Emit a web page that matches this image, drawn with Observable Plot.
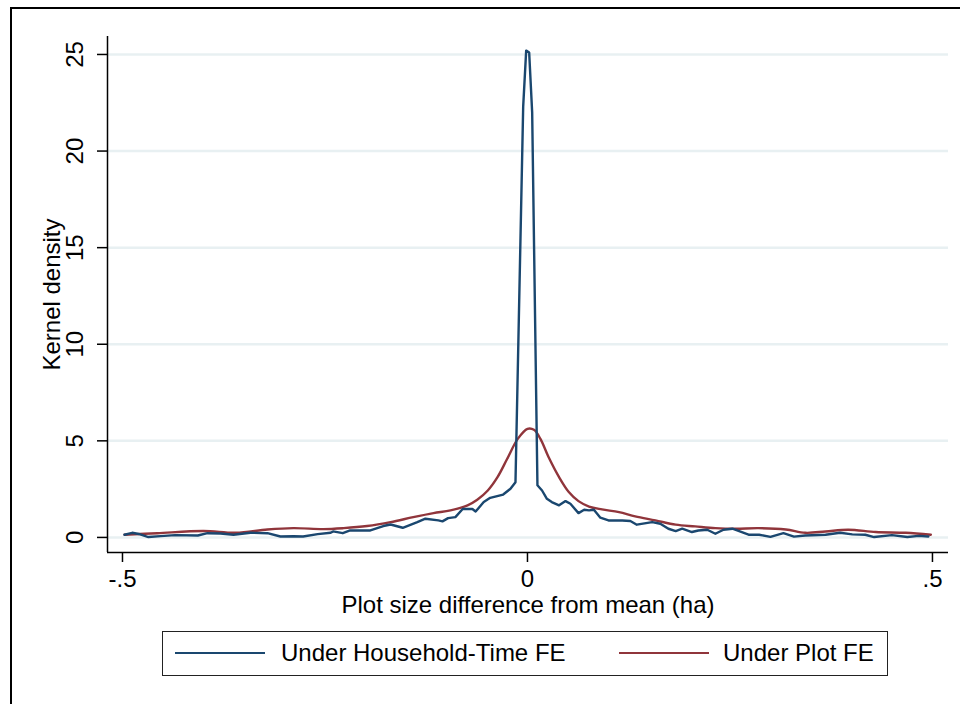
<!DOCTYPE html>
<html>
<head>
<meta charset="utf-8">
<script src="https://cdn.jsdelivr.net/npm/d3@7"></script>
<script src="https://cdn.jsdelivr.net/npm/@observablehq/plot@0.6"></script>
<style>
  html, body { margin: 0; padding: 0; background: #fff; }
  #wrap { position: relative; width: 960px; height: 704px; overflow: hidden; font-family: "Liberation Sans", Arial, Helvetica, sans-serif; }
  #outer { position: absolute; left: 10px; top: 7px; width: 1000px; height: 800px; border-top: 2.5px solid #000; border-left: 2.5px solid #000; pointer-events: none; }
  #legend { position: absolute; left: 162px; top: 631px; width: 726px; height: 45px; border: 1.6px solid #222; box-sizing: border-box; }
  .sw { position: absolute; top: 20px; width: 90px; height: 0; border-top: 2.5px solid; }
  .lt { position: absolute; top: 0; line-height: 42px; font-size: 24px; color: #000; white-space: nowrap; }
</style>
</head>
<body>
<div id="wrap">
  <div id="chart"></div>
  <div id="legend"></div>
  <div id="outer"></div>
</div>
<script>
// ---- data ----
const blueX = [-0.4975, -0.488, -0.480, -0.468, -0.453, -0.435, -0.407, -0.395, -0.379, -0.363,
  -0.342, -0.321, -0.305, -0.289, -0.277, -0.259, -0.243, -0.240, -0.228, -0.219,
  -0.194, -0.178, -0.169, -0.154, -0.136, -0.126, -0.110, -0.105, -0.098, -0.089,
  -0.080, -0.068, -0.064, -0.054, -0.046, -0.030, -0.021, -0.0148, -0.0053, -0.0016,
  0.0021, 0.0058, 0.0123, 0.018, 0.024, 0.030, 0.039, 0.047, 0.053, 0.063,
  0.070, 0.076, 0.082, 0.090, 0.100, 0.117, 0.127, 0.135, 0.154, 0.164,
  0.174, 0.183, 0.191, 0.203, 0.211, 0.222, 0.232, 0.242, 0.253, 0.273,
  0.286, 0.300, 0.316, 0.329, 0.343, 0.368, 0.386, 0.401, 0.417, 0.428,
  0.450, 0.469, 0.483, 0.495];
const blueY = [0.14, 0.24, 0.18, 0.02, 0.07, 0.12, 0.10, 0.22, 0.20, 0.14,
  0.24, 0.22, 0.05, 0.06, 0.05, 0.17, 0.24, 0.31, 0.22, 0.36,
  0.36, 0.59, 0.67, 0.50, 0.79, 0.97, 0.88, 0.83, 1.00, 1.05,
  1.47, 1.47, 1.34, 1.83, 2.05, 2.22, 2.52, 2.86, 22.3, 25.2,
  25.1, 22.0, 2.70, 2.43, 2.00, 1.83, 1.66, 1.88, 1.74, 1.26,
  1.43, 1.40, 1.43, 1.02, 0.88, 0.88, 0.85, 0.66, 0.79, 0.71,
  0.45, 0.33, 0.45, 0.28, 0.36, 0.40, 0.19, 0.40, 0.45, 0.14,
  0.14, 0.03, 0.22, 0.04, 0.10, 0.14, 0.24, 0.16, 0.14, 0.02,
  0.12, 0.02, 0.08, 0.05];

const redX = [-0.4975, -0.457, -0.400, -0.360, -0.321, -0.289, -0.252, -0.227, -0.198, -0.169,
  -0.141, -0.116, -0.095, -0.074, -0.062, -0.049, -0.037, -0.025, -0.012, 0.000,
  0.008, 0.016, 0.026, 0.039, 0.051, 0.063, 0.076, 0.092, 0.113, 0.133,
  0.158, 0.183, 0.207, 0.232, 0.257, 0.285, 0.319, 0.343, 0.368, 0.396,
  0.430, 0.467, 0.498];
const redY = [0.14, 0.22, 0.33, 0.24, 0.41, 0.48, 0.43, 0.48, 0.59, 0.79,
  1.05, 1.26, 1.40, 1.66, 1.95, 2.43, 3.12, 4.07, 5.10, 5.62,
  5.57, 5.10, 4.16, 3.12, 2.35, 1.88, 1.60, 1.45, 1.31, 1.09,
  0.88, 0.66, 0.57, 0.48, 0.45, 0.48, 0.41, 0.24, 0.31, 0.40,
  0.28, 0.24, 0.14];

const yTicks = [0, 5, 10, 15, 20, 25];
const xTicks = [-0.5, 0, 0.5];
const xTickLabels = ["-.5", "0", ".5"];
const seriesNames = ["Under Household-Time FE", "Under Plot FE"];
const seriesColors = ["#1a476f", "#90353b"];
const xTitle = "Plot size difference from mean (ha)";
const yTitle = "Kernel density";

// ---- tables ----
const blueData = blueX.map((x, i) => ({x, y: blueY[i]}));
const redData = redX.map((x, i) => ({x, y: redY[i]}));
const xDomain = [-0.5185, 0.5198];
const yDomain = [-0.78, 25.93];
const FONT = "'Liberation Sans', Arial, Helvetica, sans-serif";

const chart = Plot.plot({
  width: 960,
  height: 622,
  marginLeft: 107,
  marginRight: 12,
  marginTop: 36,
  marginBottom: 70,
  style: {fontFamily: FONT, fontSize: "24px", color: "#000", background: "transparent"},
  x: {domain: xDomain},
  y: {domain: yDomain},
  marks: [
    Plot.ruleY(yTicks, {stroke: "#e8f0f2", strokeWidth: 2.5}),
    Plot.line(redData, {x: "x", y: "y", stroke: seriesColors[1], strokeWidth: 2.4, curve: "catmull-rom"}),
    Plot.line(blueData, {x: "x", y: "y", stroke: seriesColors[0], strokeWidth: 2.4}),
    Plot.ruleX([xDomain[0]], {stroke: "#000", strokeWidth: 1.5}),
    Plot.ruleY([yDomain[0]], {stroke: "#000", strokeWidth: 1.5}),
    Plot.axisX({ticks: xTicks, tickFormat: d => xTickLabels[xTicks.indexOf(d)], tickSize: 10, tickPadding: 7, fontSize: 24, label: null, stroke: "#000", strokeWidth: 1.5}),
    Plot.axisY({ticks: yTicks, tickFormat: () => "", tickSize: 10, label: null, stroke: "#000", strokeWidth: 1.5}),
    Plot.text(yTicks, {y: d => d, text: d => String(d), frameAnchor: "left", rotate: -90, dx: -25, textAnchor: "middle", lineAnchor: "bottom", fontSize: 24, fill: "#000"}),
    Plot.text([xTitle], {frameAnchor: "bottom", dy: 53, text: d => d, fontSize: 24, fill: "#000", textAnchor: "middle", lineAnchor: "middle"}),
    Plot.text([yTitle], {frameAnchor: "left", dx: -55, rotate: -90, text: d => d, fontSize: 24, fill: "#000", textAnchor: "middle", lineAnchor: "middle"})
  ]
});
document.getElementById("chart").appendChild(chart);

// ---- legend (HTML below the svg) ----
const legend = document.getElementById("legend");
const swLeft = [12, 456];
const txtLeft = [118, 560];
seriesNames.forEach((name, i) => {
  const sw = document.createElement("div");
  sw.className = "sw";
  sw.style.left = swLeft[i] + "px";
  sw.style.borderTopColor = seriesColors[i];
  legend.appendChild(sw);
  const t = document.createElement("div");
  t.className = "lt";
  t.style.left = txtLeft[i] + "px";
  t.textContent = name;
  legend.appendChild(t);
});
</script>
</body>
</html>
